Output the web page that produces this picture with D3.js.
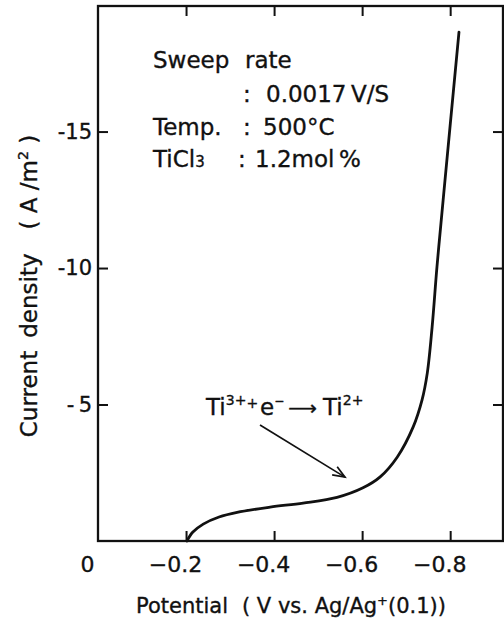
<!DOCTYPE html>
<html>
<head>
<meta charset="utf-8">
<script src="https://cdn.jsdelivr.net/npm/d3@7"></script>
<style>
  html, body { margin: 0; padding: 0; background: #fff; }
  svg { display: block; }
  text { font-family: "DejaVu Sans", sans-serif; fill: #111; stroke: #111; stroke-width: 0.35px; }
</style>
</head>
<body>
<svg id="chart" width="504" height="621"></svg>
<script>
// Cathodic polarization curve, Ti3+ -> Ti2+ reduction in molten chloride
const potential = [-0.202, -0.215, -0.239, -0.275, -0.316, -0.391, -0.466, -0.543, -0.602, -0.641, -0.680, -0.716, -0.736, -0.748, -0.759, -0.770, -0.784, -0.820];
const current   = [0.0, -0.32, -0.62, -0.88, -1.05, -1.24, -1.39, -1.60, -1.95, -2.35, -3.08, -4.18, -5.16, -6.15, -7.84, -10.04, -12.49, -18.64];

const xTicks = [0, -0.2, -0.4, -0.6, -0.8];
const yTicks = [-5, -10, -15];

// experimental conditions: [text, x position]
const conditionRows = [
  [["Sweep", 153], ["rate", 245]],
  [[":", 243], ["0.0017", 266], ["V/S", 351]],
  [["Temp.", 153], [":", 243], ["500°C", 263]],
  [["TiCl", 153], [":", 238], ["1.2mol", 255], ["%", 339]]
];
const conditionBaselines = [68, 102, 135, 167];

const svg = d3.select("#chart");
const x = d3.scaleLinear().domain([0, -0.92]).range([98, 503]);
const y = d3.scaleLinear().domain([0, -19.6]).range([541, 6]);

const ink = "#111";

// frame
svg.append("rect")
  .attr("x", x(0)).attr("y", y(-19.6))
  .attr("width", x(-0.92) - x(0)).attr("height", y(0) - y(-19.6))
  .attr("fill", "none").attr("stroke", ink).attr("stroke-width", 2.3);

// bottom axis (labels) and top axis (ticks only)
const axB = svg.append("g").attr("transform", `translate(0,${y(0)})`)
  .call(d3.axisBottom(x).tickValues(xTicks).tickSize(-10).tickPadding(15)
    .tickFormat(d => d === 0 ? "0" : "\u2212" + d3.format(".1f")(Math.abs(d))));
axB.select(".domain").remove();
axB.selectAll("line").attr("stroke", ink).attr("stroke-width", 2)
  .filter(d => d === 0).remove();
axB.selectAll("text").attr("font-size", 22).attr("dx", -11)
  .attr("font-family", "DejaVu Sans").attr("fill", ink);

const axT = svg.append("g").attr("transform", `translate(0,${y(-19.6)})`)
  .call(d3.axisTop(x).tickValues(xTicks.filter(d => d !== 0)).tickSize(-10).tickFormat(""));
axT.select(".domain").remove();
axT.selectAll("line").attr("stroke", ink).attr("stroke-width", 2);

// left axis (labels) and right axis (ticks only)
const axL = svg.append("g").attr("transform", `translate(${x(0)},0)`)
  .call(d3.axisLeft(y).tickValues(yTicks).tickSize(-10).tickPadding(6)
    .tickFormat(d => Math.abs(d) < 10 ? "-\u2009" + Math.abs(d) : "-" + Math.abs(d)));
axL.select(".domain").remove();
axL.selectAll("line").attr("stroke", ink).attr("stroke-width", 2);
axL.selectAll("text").attr("font-size", 21).attr("font-family", "DejaVu Sans").attr("fill", ink);

const axR = svg.append("g").attr("transform", `translate(${x(-0.92)},0)`)
  .call(d3.axisRight(y).tickValues(yTicks).tickSize(-10).tickFormat(""));
axR.select(".domain").remove();
axR.selectAll("line").attr("stroke", ink).attr("stroke-width", 2);

// polarization curve
const line = d3.line().x((d, i) => x(potential[i])).y((d, i) => y(current[i])).curve(d3.curveCatmullRom.alpha(0.5));
svg.append("path").datum(potential).attr("d", line)
  .attr("fill", "none").attr("stroke", ink).attr("stroke-width", 2.8).attr("stroke-linecap", "round");

// axis titles
const xt = svg.append("text").attr("x", 291).attr("y", 613).attr("text-anchor", "middle")
  .attr("font-size", 21);
xt.append("tspan").text("Potential");
xt.append("tspan").text("( V vs. Ag/Ag").attr("dx", 14);
xt.append("tspan").text("+").attr("font-size", 13).attr("dy", -8);
xt.append("tspan").text("(0.1))").attr("dy", 8);

const yt = svg.append("text").attr("transform", "translate(37,286) rotate(-90)")
  .attr("text-anchor", "middle").attr("font-size", 23);
yt.append("tspan").text("Current");
yt.append("tspan").text("density").attr("dx", 13);
yt.append("tspan").text("( A /m").attr("dx", 24);
yt.append("tspan").text("2").attr("font-size", 14).attr("dy", -9);
yt.append("tspan").text(" )").attr("dy", 9);

// experimental conditions
const tx = svg.append("g").attr("font-size", 23);
conditionRows.forEach((row, r) => {
  row.forEach(([s, px]) => {
    const t = tx.append("text").attr("x", px).attr("y", conditionBaselines[r]).text(s);
    if (s === "TiCl") t.append("tspan").text("3").attr("font-size", 15);
  });
});

// reaction label
const rx = svg.append("text").attr("x", 206).attr("y", 415).attr("font-size", 23);
rx.append("tspan").text("Ti");
rx.append("tspan").text("3+").attr("font-size", 14).attr("dy", -10);
rx.append("tspan").text("+").attr("font-size", 14).attr("dy", 3);
rx.append("tspan").text("e").attr("dy", 7).attr("dx", 2);
rx.append("tspan").text("\u2212").attr("font-size", 12).attr("dy", -10);
rx.append("tspan").text("\u27f6").attr("dy", 10).attr("dx", 4).attr("font-size", 20);
rx.append("tspan").text("Ti").attr("dx", 6);
rx.append("tspan").text("2+").attr("font-size", 14).attr("dy", -10);

// pointer arrow to the pre-wave plateau
const a0 = [x(-0.368), y(-4.25)], a1 = [x(-0.561), y(-2.34)];
svg.append("line").attr("x1", a0[0]).attr("y1", a0[1]).attr("x2", a1[0]).attr("y2", a1[1])
  .attr("stroke", ink).attr("stroke-width", 1.7);
const ang = Math.atan2(a1[1] - a0[1], a1[0] - a0[0]);
const head = [ang + Math.PI - 0.38, ang + Math.PI + 0.38].map(t => [a1[0] + 13 * Math.cos(t), a1[1] + 13 * Math.sin(t)]);
svg.append("path").attr("d", `M${head[0]}L${a1}L${head[1]}`)
  .attr("fill", "none").attr("stroke", ink).attr("stroke-width", 1.7);
</script>
</body>
</html>
